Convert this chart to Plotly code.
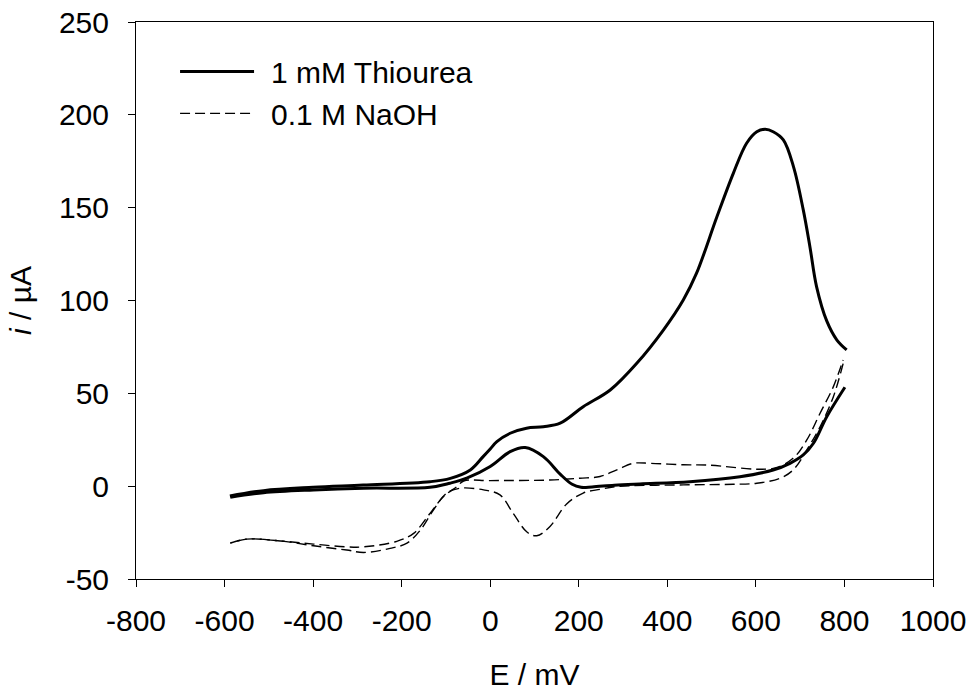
import plotly.graph_objects as go

# 1 mM Thiourea: anodic (forward) scan, E in mV, i in µA
thio_fwd_E = [-588, -512, -400, -287, -136, -90, -45, -16, 0, 15, 45, 82, 120, 158, 210, 271, 331, 391,
              436, 466, 512, 549, 579, 602, 621, 639, 662, 685, 707, 722, 737, 760, 783, 805]
thio_fwd_i = [-5.3, -2.4, -0.6, 0.6, 2.4, 4.2, 8.7, 15.9, 20, 24, 28.5, 31.2, 32, 33.9, 42.8, 51.8, 66.2, 84.1,
              100.3, 114.7, 145.1, 168.5, 184.7, 190.9, 192.2, 190.9, 186.5, 172, 148.8, 129, 107.5, 89, 78.7, 73.4]
# 1 mM Thiourea: reverse scan
thio_rev_E = [801, 760, 730, 707, 677, 639, 564, 451, 338, 280, 230, 205, 185, 158, 120, 79, 45, 0, -53, -91,
              -136, -286, -399, -512, -587]
thio_rev_i = [53.3, 37.4, 23.1, 16.8, 12.3, 8.7, 5.1, 2.4, 1.2, 0.5, -0.4, -0.6, 1.0, 6.5, 15.9, 20.8, 18.6, 10.6, 4.3, 1.6,
              -0.6, -1.1, -2.0, -3.5, -6.0]

# 0.1 M NaOH: forward scan
naoh_fwd_E = [-587, -550, -474, -399, -324, -286, -211, -173, -136, -106, -75, -60, 0, 135, 202, 248, 286,
              323, 362, 436, 489, 639, 684, 715, 745, 775, 797]
naoh_fwd_i = [-30.7, -28.5, -29.5, -31.2, -32.7, -32.7, -29.7, -25.4, -14.7, -5.7, -0.2, 2.8, 3.0, 3.3, 4.3, 5.2, 8.8,
              12.3, 12.3, 11.5, 11.4, 9.6, 15, 24.9, 39.3, 53.6, 68]
# 0.1 M NaOH: reverse scan
naoh_rev_E = [797, 775, 745, 715, 684, 654, 602, 549, 436, 286, 248, 210, 172, 135, 105, 83, 52, 22, -15,
              -68, -98, -128, -158, -188, -226, -286, -324, -399, -474, -550, -587]
naoh_rev_i = [66, 48.2, 32, 19.5, 8.7, 4.2, 1.6, 1.0, 0.7, -0.2, -1.7, -3.7, -9.7, -21.7, -26.7, -24.7, -14.7, -4.7, -2.0,
              -1.1, -3.7, -12.7, -23.7, -30.7, -33.5, -35.7, -34.4, -32.1, -29.5, -28.5, -30.7]

x_ticks = [-800, -600, -400, -200, 0, 200, 400, 600, 800, 1000]
y_ticks = [-50, 0, 50, 100, 150, 200, 250]

FONT = "Liberation Sans, Arial, sans-serif"
FS = 30

fig = go.Figure()
fig.add_trace(go.Scatter(
    x=thio_fwd_E + [None] + thio_rev_E,
    y=thio_fwd_i + [None] + thio_rev_i,
    mode="lines", name="\u2009\u20091 mM Thiourea", legendgroup="a",
    line=dict(color="black", width=3, shape="spline", smoothing=1.0),
    connectgaps=False,
))
fig.add_trace(go.Scatter(
    x=naoh_fwd_E + [None] + naoh_rev_E,
    y=naoh_fwd_i + [None] + naoh_rev_i,
    mode="lines", name="\u2009\u20090.1 M NaOH", legendgroup="b",
    line=dict(color="black", width=1.4, dash="10px,5px", shape="spline", smoothing=1.0),
    connectgaps=False,
))

axis_common = dict(
    showline=True, linecolor="black", linewidth=1, mirror=True,
    ticks="outside", ticklen=7, tickwidth=1, tickcolor="black",
    showgrid=False, zeroline=False, automargin=False,
    ticklabeloverflow="allow",
    tickfont=dict(family=FONT, size=FS, color="black"),
)
fig.update_xaxes(range=[-800, 1000], tickvals=x_ticks, ticktext=[str(v) for v in x_ticks],
                 ticklabelstandoff=8,
                 title=dict(text="E / mV", font=dict(family=FONT, size=FS, color="black"), standoff=27),
                 **axis_common)
fig.update_yaxes(range=[-50, 250], tickvals=y_ticks, ticktext=[str(v) for v in y_ticks],
                 ticklabelstandoff=13,
                 title=dict(text="<i>i</i> / µA", font=dict(family=FONT, size=FS, color="black"), standoff=18),
                 **axis_common)

fig.update_layout(
    width=973, height=695,
    margin=dict(l=136, r=40, t=22, b=116),
    plot_bgcolor="white", paper_bgcolor="white",
    font=dict(family=FONT, size=FS, color="black"),
    legend=dict(x=0.049, y=0.958, xanchor="left", yanchor="top", bgcolor="rgba(0,0,0,0)",
                font=dict(family=FONT, size=FS, color="black"), tracegroupgap=0,
                traceorder="grouped", itemwidth=74),
    showlegend=True,
)

# remove the browser's default 8px body margin so the figure fills the window exactly
fig.write_html("out.html", config={"displayModeBar": False},
               post_script="document.body.style.margin='0';document.body.style.overflow='hidden';")
